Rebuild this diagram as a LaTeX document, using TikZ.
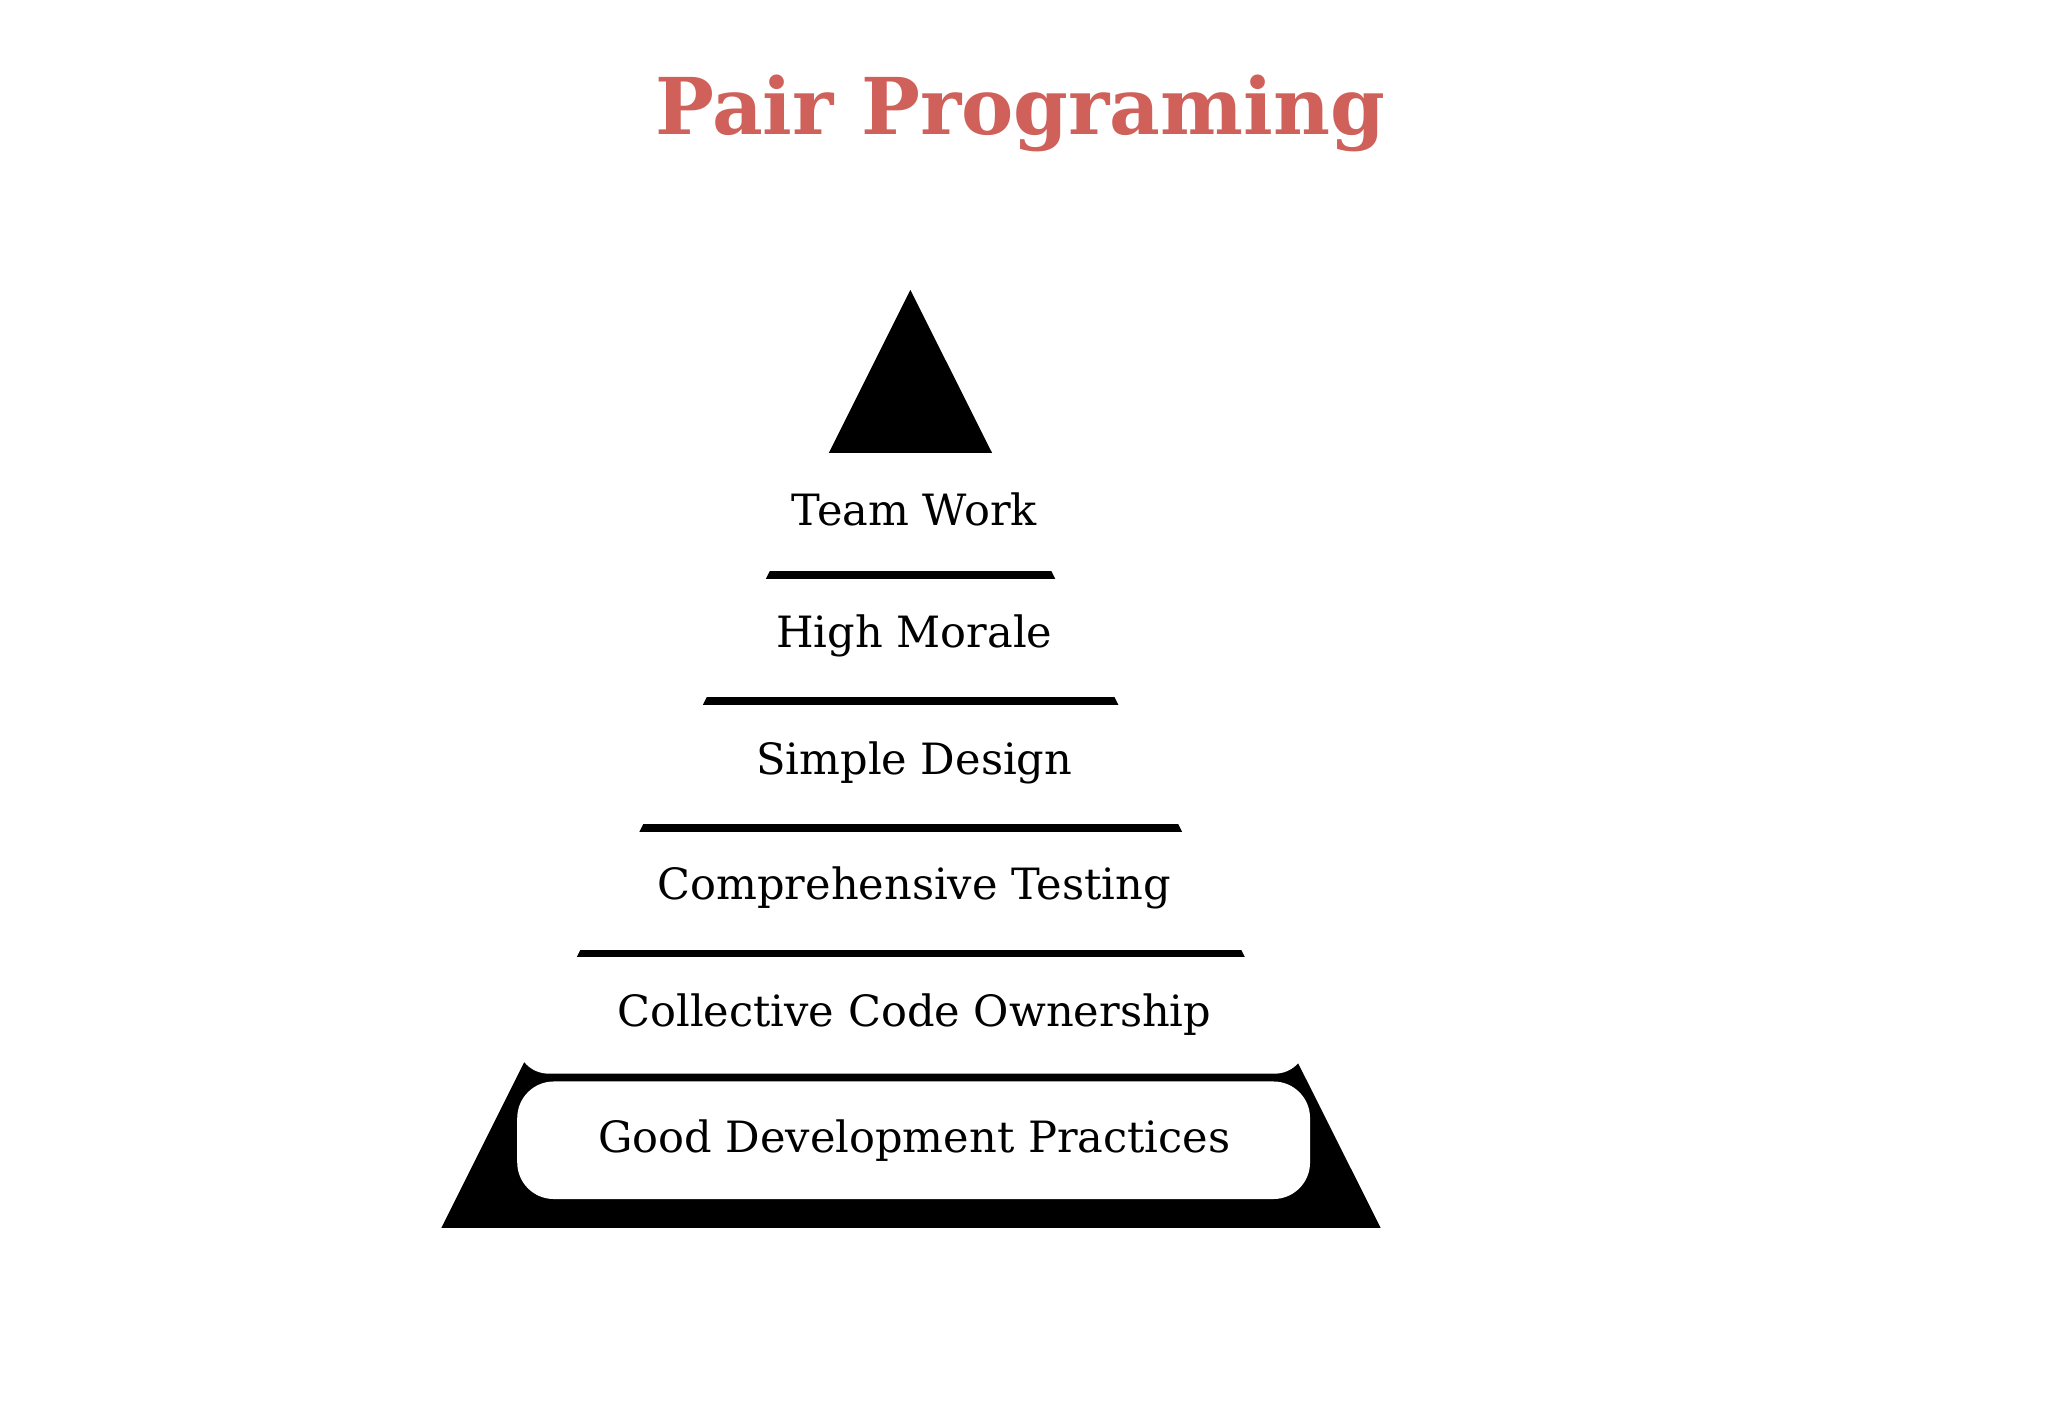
\documentclass[tikz,border=0pt]{standalone}
\usepackage{fontspec}
\setmainfont{DejaVu Serif}
\definecolor{titlered}{HTML}{D0605A}
\begin{document}
\begin{tikzpicture}[x=0.5pt,y=-0.5pt,
  band/.style={fill=white,draw=none},
  lbl/.style={font=\fontsize{16.5}{18}\selectfont,text=black}]
\useasboundingbox (0,0) rectangle (1568,1085.6);
\fill[white] (0,0) rectangle (1568,1085.6);
\node[font=\fontsize{30}{34}\bfseries\selectfont,text=titlered] (title) at (781,87) {Pair Programing};
\fill[black] (697,222) -- (1057,940) -- (338,940) -- cycle;
\fill[band] (300,347) rectangle (1100,437);
\fill[band] (300,443) rectangle (1100,534);
\fill[band] (300,540) rectangle (1100,631);
\fill[band] (300,637) rectangle (1100,727);
\fill[band,rounded corners=12] (396,733) rectangle (1000,822);
\fill[band] (300,733) rectangle (1100,760);
\fill[band,rounded corners=14] (396,828) rectangle (1003,918);
\node[lbl] (t1) at (700,390) {Team Work};
\node[lbl] (t2) at (700,487) {High Morale};
\node[lbl] (t3) at (700,584) {Simple Design};
\node[lbl] (t4) at (700,680) {Comprehensive Testing};
\node[lbl] (t5) at (700,777) {Collective Code Ownership};
\node[lbl] (t6) at (700,873) {Good Development Practices};
\end{tikzpicture}
\end{document}
